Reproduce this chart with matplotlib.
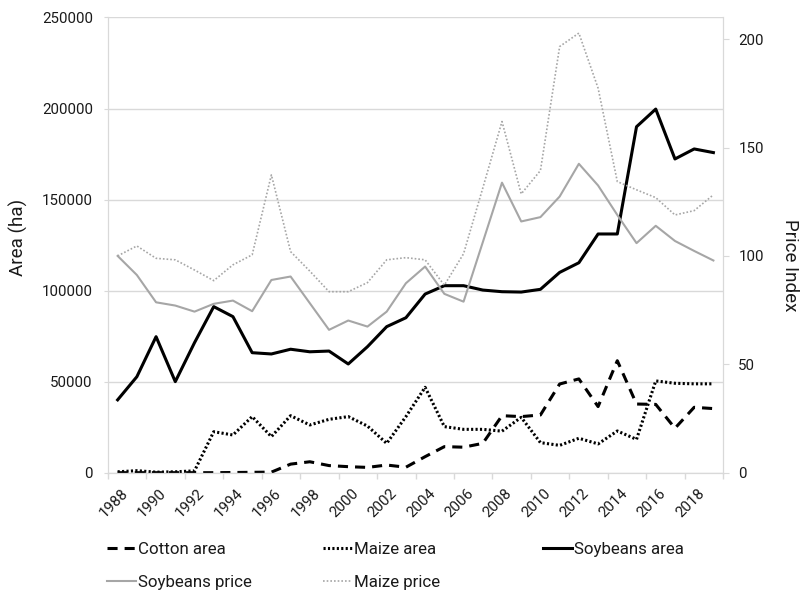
import matplotlib.pyplot as plt
import numpy as np
from matplotlib.ticker import FixedLocator
from matplotlib.transforms import ScaledTranslation

plt.rcParams['font.family'] = ['Roboto', 'DejaVu Sans']

# ====== DATA ====== #
years = list(range(1988, 2020))
cotton_area = [0, 0, 0, 0, 0, 0, 100, 200, 300, 4700, 6000, 3900, 3300, 2900, 4200, 3000,
               8800, 14300, 14000, 16100, 31300, 30800, 31700, 48700, 51500, 36300, 61500,
               37700, 37500, 24400, 35900, 35200]
maize_area = [500, 1100, 300, 500, 1000, 22500, 20700, 30800, 19800, 31300, 26200, 29300,
              30800, 25600, 16100, 30800, 46900, 25300, 23800, 23800, 22800, 30400, 16500,
              15000, 18900, 15800, 22900, 18300, 50400, 49100, 48800, 48800]
soy_area = [40000, 52700, 74700, 50000, 71400, 91200, 85700, 65900, 65200, 67800, 66400,
            66800, 59700, 69200, 80200, 85100, 98100, 102700, 102700, 100300, 99400, 99200,
            100700, 110000, 115300, 131100, 131100, 190000, 199700, 172300, 177800, 175800]
soy_price = [100, 91.2, 78.6, 77.1, 74.3, 77.9, 79.4, 74.5, 88.9, 90.5, 78.2, 65.9, 70.2,
             67.4, 74.3, 87.4, 95.1, 82.5, 78.9, 106.3, 133.8, 115.9, 117.9, 127.4, 142.5,
             132.5, 118.9, 105.9, 113.9, 106.9, 102.3, 97.9]
maize_price = [100, 104.6, 98.9, 98.2, 93.5, 88.6, 95.9, 100.5, 137.4, 102, 93, 83.5, 83.5,
               87.7, 98.2, 99.2, 98.2, 86.5, 101, 131.3, 162, 128.6, 139.4, 196.6, 202.8,
               177.4, 134.3, 130.5, 126.9, 118.9, 120.9, 128.2]

grid_col = '#d9d9d9'
text_col = '#1a1a1a'
x = np.arange(len(years))

fig = plt.figure(figsize=(8.02, 5.91), dpi=100)
ax = fig.add_axes([0.1347, 0.2002, 0.7668, 0.7702])
ax2 = ax.twinx()

# area lines (left axis)
l_cot, = ax.plot(x, cotton_area, color='black', lw=2.2, ls=(0, (3.3, 2.3)), label='Cotton area')
l_mai, = ax.plot(x, maize_area, color='black', lw=2.2, ls=(0, (0.7, 0.75)),
                 dash_capstyle='butt', label='Maize area')
l_soy, = ax.plot(x, soy_area, color='black', lw=2.2, label='Soybeans area')

# price lines (right axis)
l_sp, = ax2.plot(x, soy_price, color='#a6a6a6', lw=1.5, label='Soybeans price')
l_mp, = ax2.plot(x, maize_price, color='#a6a6a6', lw=1.2, ls=(0, (1, 1.2)), label='Maize price')

ax.set_xlim(-0.5, len(years) - 0.5)
ax.set_ylim(0, 250000)
ax.set_yticks(np.arange(0, 250001, 50000))
ax.grid(axis='y', color=grid_col, lw=1)
ax.set_axisbelow(True)
ax2.set_ylim(0, 210)
ax2.set_yticks([0, 50, 100, 150, 200])

# category-style x axis: ticks at boundaries, labels at centers
ax.xaxis.set_major_locator(FixedLocator(np.arange(-0.5, len(years), 2)))
ax.xaxis.set_major_formatter(plt.NullFormatter())
ax.xaxis.set_minor_locator(FixedLocator(x[::2]))
ax.set_xticklabels([str(y) for y in years[::2]], minor=True, rotation=45,
                   ha='right', va='top', rotation_mode='anchor')
ax.tick_params(axis='x', which='major', length=4, color=grid_col, width=1)
ax.tick_params(axis='x', which='minor', length=0, pad=10, labelsize=10.8, labelcolor=text_col)
ax.tick_params(axis='y', length=3, color=grid_col, labelsize=10.8, labelcolor=text_col, pad=8)
ax2.tick_params(axis='y', length=4, color=grid_col, labelsize=10.8, labelcolor=text_col, pad=7)
shift = ScaledTranslation(3 / 100, 0, fig.dpi_scale_trans)
for lab in ax.get_xticklabels(minor=True):
    lab.set_transform(lab.get_transform() + shift)

for a in (ax, ax2):
    a.spines['top'].set_visible(False)
    for s in ('left', 'right', 'bottom'):
        a.spines[s].set_color(grid_col)

ax.set_ylabel('Area (ha)', fontsize=13.5, va='center', color=text_col)
ax.yaxis.set_label_coords(-0.146, 0.516)
ax2.set_ylabel('Price Index', fontsize=13.5, rotation=270, va='center', color=text_col)
ax2.yaxis.set_label_coords(1.109, 0.456)

# legend: three fixed-width columns like the original
columns = [[l_cot, l_sp], [l_mai, l_mp], [l_soy]]
col_x = [107, 323, 543]
for hs, cx in zip(columns, col_x):
    fig.legend(hs, [h.get_label() for h in hs], frameon=False, loc='upper left',
               bbox_to_anchor=(cx / 802, 1 - 542 / 591), borderpad=0, borderaxespad=0,
               fontsize=12.2, handlelength=1.7, handletextpad=0.15, labelspacing=1.05,
               labelcolor=text_col)

fig.savefig('out.png', dpi=100)
